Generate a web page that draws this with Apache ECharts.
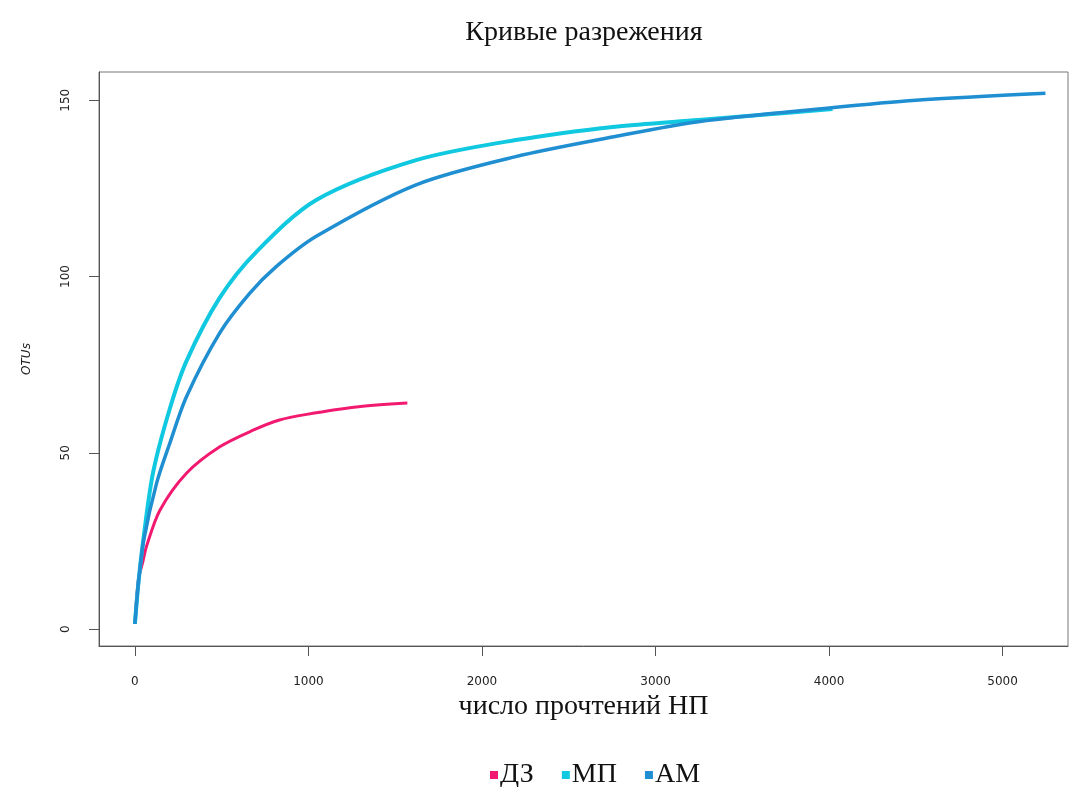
<!DOCTYPE html>
<html>
<head>
<meta charset="utf-8">
<title>Кривые разрежения</title>
<script src="https://cdn.jsdelivr.net/npm/echarts@6/dist/echarts.min.js"></script>
<style>
  html, body { margin: 0; padding: 0; background: #fff; }
  #main { width: 1073px; height: 787px; }
</style>
</head>
<body>
<div id="main"></div>
<script>
// данные кривых (число прочтений, OTUs)
var seriesNames = ['ДЗ', 'МП', 'АМ'];
var dzData = [[0, 1.5], [20, 14], [45, 19], [67, 23.5], [144, 33.7], [297, 44.2], [489, 51.7], [681, 56.4], [833, 59.3], [990, 60.9], [1276, 63], [1570, 64.1]];
var mpData = [[0, 1.5], [20, 13], [50, 26], [105, 44.5], [201, 62.5], [297, 76], [489, 94], [700, 107], [1045, 121.7], [1620, 133], [2194, 138.7], [2768, 142.5], [3247, 144.4], [3600, 145.8], [4020, 147.5]];
var amData = [[0, 1.5], [20, 13], [50, 25], [125, 41.4], [201, 52.7], [297, 65.9], [489, 84], [661, 95.2], [814, 102.8], [1045, 111.4], [1620, 126], [2194, 134], [2768, 139.7], [3247, 143.9], [4000, 147.8], [4500, 150], [5247, 152]];
var xTicks = [0, 1000, 2000, 3000, 4000, 5000];
var yTicks = [0, 50, 100, 150];

var colors = ['#f21a70', '#10c8e0', '#1f8fd2'];

var myChart = echarts.init(document.getElementById('main'));
var option = {
    backgroundColor: '#fff',
    color: colors,
    title: {
        text: 'Кривые разрежения',
        left: 579,
        textAlign: 'center',
        top: 14,
        textStyle: { fontFamily: 'Liberation Serif', fontSize: 28, fontWeight: 'normal', color: '#111' }
    },
    legend: {
        data: seriesNames,
        bottom: -7,
        left: 485,
        icon: 'rect',
        itemWidth: 8,
        itemHeight: 8,
        itemGap: 28,
        textStyle: { fontFamily: 'Liberation Serif', fontSize: 28, color: '#111', padding: [0, 0, 0, -3] }
    },
    grid: {
        left: 99,
        right: 5,
        top: 72,
        bottom: 141,
        show: true,
        borderColor: '#777',
        borderWidth: 1
    },
    xAxis: {
        type: 'value',
        min: -207,
        max: 5377,
        name: 'число прочтений НП',
        nameLocation: 'middle',
        nameGap: 46,
        nameTextStyle: { fontFamily: 'Liberation Serif', fontSize: 28, color: '#111' },
        axisLine: { show: true, onZero: false, lineStyle: { color: '#555' } },
        axisTick: { show: true, length: 10, customValues: xTicks, lineStyle: { color: '#555' } },
        axisLabel: {
            customValues: xTicks, margin: 30, fontFamily: 'DejaVu Sans', fontSize: 12, color: '#222',
            formatter: function (v) { return String(v); }
        },
        splitLine: { show: false }
    },
    yAxis: {
        type: 'value',
        min: -4.8,
        max: 158,
        name: 'OTUs',
        nameLocation: 'middle',
        nameGap: 66,
        nameTextStyle: { fontFamily: 'DejaVu Sans', fontStyle: 'italic', fontSize: 12, color: '#222' },
        axisLine: { show: true, onZero: false, lineStyle: { color: '#555' } },
        axisTick: { show: true, length: 10, customValues: yTicks, lineStyle: { color: '#555' } },
        axisLabel: {
            customValues: yTicks, rotate: 90, margin: 27, fontFamily: 'DejaVu Sans', fontSize: 12, color: '#222',
            formatter: function (v) { return String(v); }
        },
        splitLine: { show: false }
    },
    series: [
        { name: 'ДЗ', type: 'line', data: dzData, smooth: 0.3, showSymbol: false, lineStyle: { width: 3 } },
        { name: 'МП', type: 'line', data: mpData, smooth: 0.3, showSymbol: false, lineStyle: { width: 4 } },
        { name: 'АМ', type: 'line', data: amData, smooth: 0.3, showSymbol: false, lineStyle: { width: 3.5 } }
    ]
};
myChart.setOption(option);
</script>
</body>
</html>
